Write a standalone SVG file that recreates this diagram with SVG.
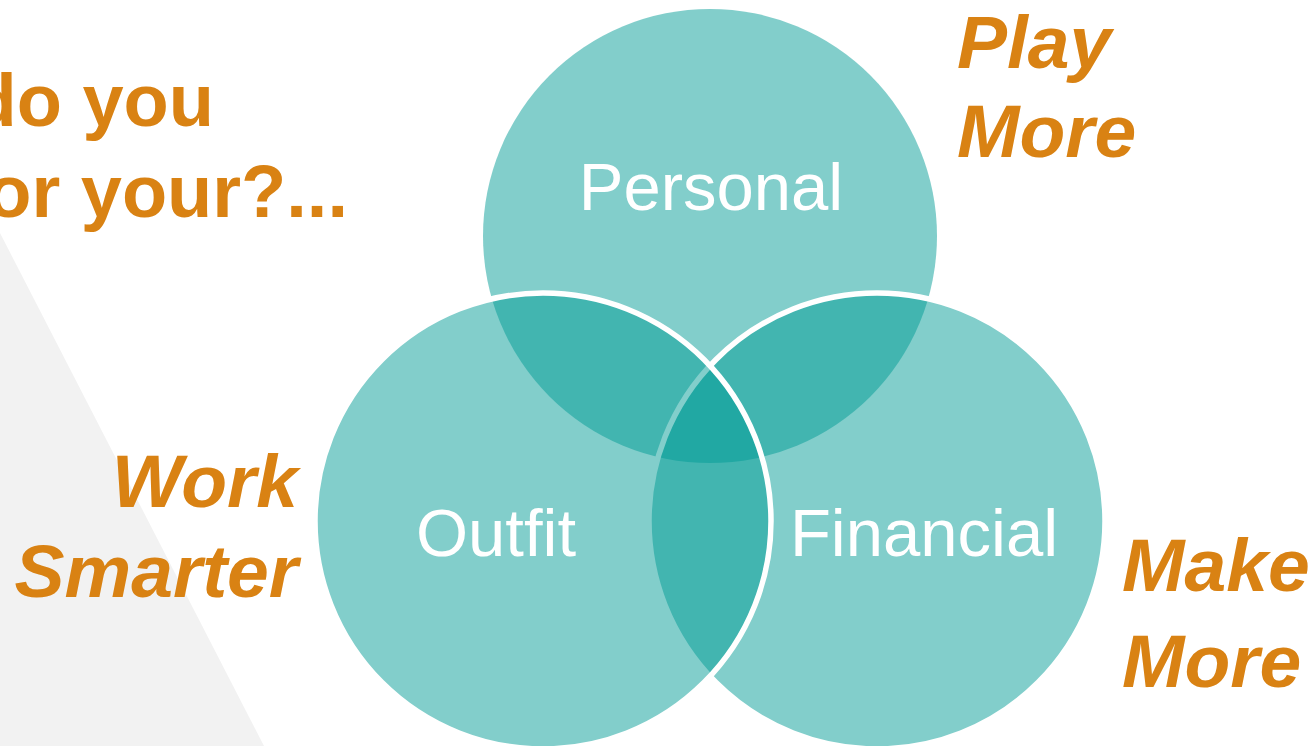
<svg xmlns="http://www.w3.org/2000/svg" width="1311" height="746" viewBox="0 0 1311 746">
<style>
.circle{fill:#009B95;fill-opacity:0.49}
.ring{stroke:#ffffff;stroke-width:5.5}
.lbl{font-family:"Liberation Sans",Arial,sans-serif;font-size:67px;fill:#ffffff;text-anchor:middle}
.head{font-family:"Liberation Sans",Arial,sans-serif;font-size:74px;font-weight:bold;fill:#D98213}
.tag{font-family:"Liberation Sans",Arial,sans-serif;font-size:75px;font-weight:bold;font-style:italic;fill:#D98213}
</style>
<rect width="1311" height="746" fill="#ffffff"/>
<polygon points="0,233 264,746 0,746" fill="#F2F2F2"/>
<g id="heading">
<text class="head" x="214" y="126" text-anchor="end">do you</text>
<text class="head" x="348" y="217" text-anchor="end">or your?...</text>
</g>
<g id="personal">
<circle class="circle" cx="710" cy="236" r="227"/>
<text class="lbl" x="711" y="210">Personal</text>
</g>
<g id="financial">
<circle class="circle ring" cx="877" cy="521" r="228"/>
<text class="lbl" x="924" y="556">Financial</text>
</g>
<g id="outfit">
<circle class="circle ring" cx="543" cy="521" r="228"/>
<text class="lbl" x="496" y="556">Outfit</text>
</g>
<g id="play-more">
<text class="tag" x="957" y="68">Play</text>
<text class="tag" x="957" y="157">More</text>
</g>
<g id="work-smarter">
<text class="tag" x="298" y="507" text-anchor="end">Work</text>
<text class="tag" x="298" y="597" text-anchor="end">Smarter</text>
</g>
<g id="make-more">
<text class="tag" x="1122" y="591">Make</text>
<text class="tag" x="1122" y="687">More</text>
</g>
</svg>
